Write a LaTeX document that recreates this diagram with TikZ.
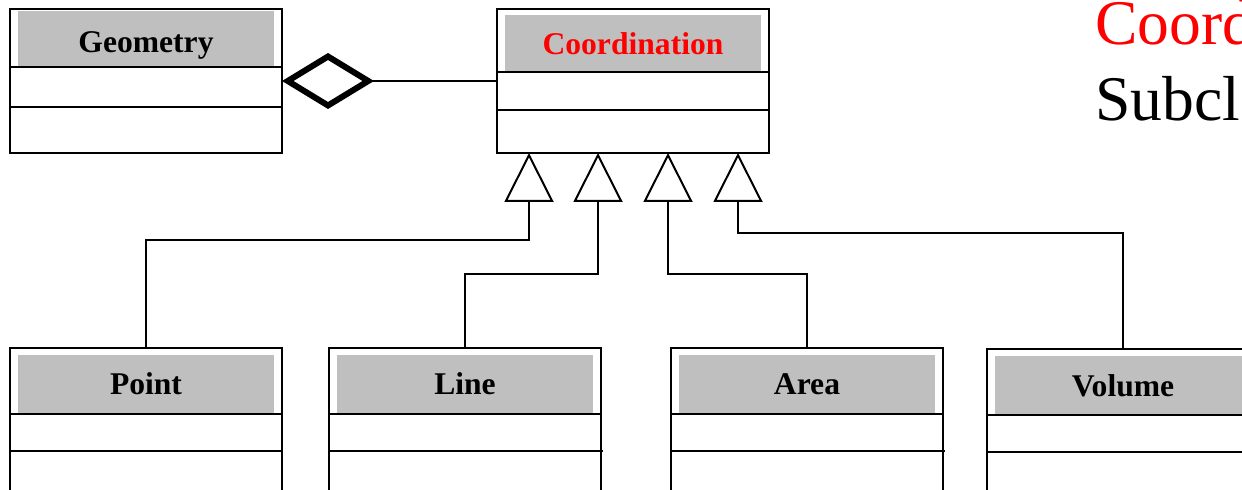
\documentclass[tikz,border=0pt]{standalone}
\usepackage{fontspec}
\setmainfont{Liberation Serif}
\usetikzlibrary{arrows.meta}
\newlength{\du}
\setlength{\du}{0.5pt}
\definecolor{headgray}{rgb}{0.750000, 0.750000, 0.750000}
\definecolor{namered}{rgb}{1.000000, 0.000000, 0.000000}
\tikzset{
  classbox/.style={draw, line width=2\du, minimum width=272\du, minimum height=144\du, inner sep=0pt, outer sep=0pt},
  classname/.style={font=\fontsize{15.8}{18}\selectfont\bfseries, anchor=base, inner sep=0pt},
  headfill/.style={fill=headgray},
  divider/.style={line width=1.6\du},
  inherit/.style={line width=2\du, -{Triangle[open, length=24.5pt, width=24.5pt]}},
  aggregate/.style={line width=2\du, {Diamond[open, length=46pt, width=28pt, line width=3pt]}-},
  bigtext/.style={font=\fontsize{31.8}{38}\selectfont, anchor=base west, inner sep=0pt}
}
\begin{document}
\begin{tikzpicture}
\pgftransformxscale{1.000000}
\pgftransformyscale{-1.000000}
\useasboundingbox (0\du,0\du) rectangle (1242\du,490\du);
\clip (0\du,0\du) rectangle (1242\du,490\du);
% header fills
\fill[headfill] (18\du,11\du) rectangle (274\du,67\du);
\fill[headfill] (505\du,15\du) rectangle (761\du,73\du);
\fill[headfill] (18\du,355\du) rectangle (274\du,413\du);
\fill[headfill] (337\du,355\du) rectangle (593\du,413\du);
\fill[headfill] (679\du,355\du) rectangle (935\du,413\du);
\fill[headfill] (995\du,356\du) rectangle (1251\du,414\du);
% class boxes
\node[classbox] (geometry) at (146\du,81\du) {};
\node[classbox] (coordination) at (633\du,81\du) {};
\node[classbox] (point) at (146\du,420\du) {};
\node[classbox] (line) at (465\du,420\du) {};
\node[classbox] (area) at (807\du,420\du) {};
\node[classbox] (volume) at (1123\du,421\du) {};
% compartments
\draw[divider] (10\du,67\du)--(282\du,67\du);
\draw[divider] (10\du,107\du)--(282\du,107\du);
\draw[divider] (497\du,72\du)--(769\du,72\du);
\draw[divider] (497\du,110\du)--(769\du,110\du);
\draw[divider] (10\du,414\du)--(282\du,414\du);
\draw[divider] (10\du,451\du)--(282\du,451\du);
\draw[divider] (329\du,414\du)--(601\du,414\du);
\draw[divider] (329\du,451\du)--(603\du,451\du);
\draw[divider] (671\du,414\du)--(943\du,414\du);
\draw[divider] (671\du,451\du)--(945\du,451\du);
\draw[divider] (987\du,415\du)--(1259\du,415\du);
\draw[divider] (987\du,452\du)--(1259\du,452\du);
% setfont left to latex
\node[classname] (geometrylabel) at (146\du,53\du) {Geometry};
\node[classname, text=namered] (coordinationlabel) at (633\du,55\du) {Coordination};
\node[classname] (pointlabel) at (146\du,395\du) {Point};
\node[classname] (linelabel) at (465\du,395\du) {Line};
\node[classname] (arealabel) at (807\du,395\du) {Area};
\node[classname] (volumelabel) at (1123\du,397\du) {Volume};
% aggregation
\draw[aggregate] (geometry.east) -- (coordination.west);
% generalisation
\coordinate (tippoint) at (529\du,153\du);
\coordinate (tipline) at (598\du,153\du);
\coordinate (tiparea) at (668\du,153\du);
\coordinate (tipvolume) at (738\du,153\du);
\draw[inherit] (point.north) -- ++(0\du,-108\du) -| (tippoint);
\draw[inherit] (line.north) -- ++(0\du,-74\du) -| (tipline);
\draw[inherit] (area.north) -- ++(0\du,-74\du) -| (tiparea);
\draw[inherit] (volume.north) -- ++(0\du,-116\du) -| (tipvolume);
% title
\node[bigtext, text=namered] (titleone) at (1095\du,45\du) {Coord};
\node[bigtext] (titletwo) at (1095\du,121\du) {Subcl};
\end{tikzpicture}
\end{document}
